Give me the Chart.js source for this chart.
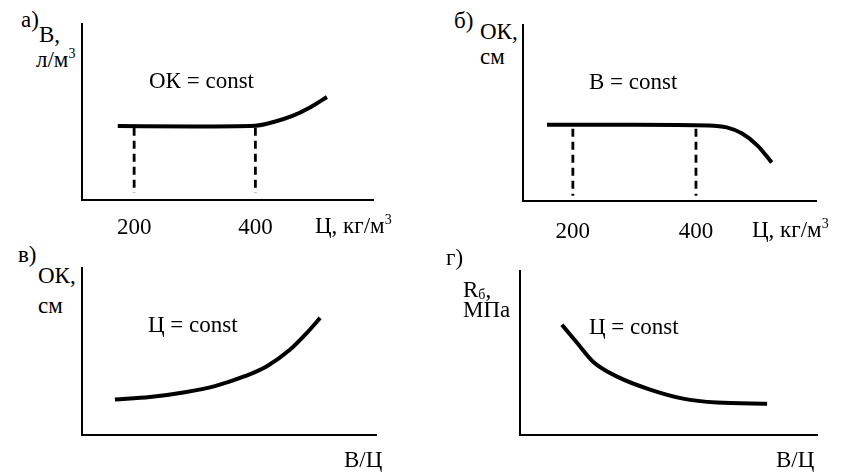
<!DOCTYPE html>
<html>
<head>
<meta charset="utf-8">
<script src="https://cdn.jsdelivr.net/npm/chart.js@4.4.1/dist/chart.umd.min.js"></script>
<style>
  body { margin: 0; background: #fff; }
  #wrap { position: relative; width: 854px; height: 473px; overflow: hidden; background: #fff; }
  canvas { position: absolute; }
  .lbl { position: absolute; font-family: "Liberation Serif", "DejaVu Serif", serif; font-size: 23px; line-height: 23px; color: #000; white-space: nowrap; }
  .sup { font-size: 14px; position: relative; top: -9px; }
  .sub { font-size: 14px; position: relative; top: 2px; }
</style>
</head>
<body>
<div id="wrap">
  <canvas id="chartA" width="299" height="225" style="left:78px;top:20px"></canvas>
  <canvas id="chartB" width="301" height="225" style="left:519px;top:21px"></canvas>
  <canvas id="chartV" width="302" height="216" style="left:78px;top:264px"></canvas>
  <canvas id="chartG" width="305" height="213" style="left:516px;top:267px"></canvas>

  <div class="lbl" style="left:21px;top:8px">а)</div>
  <div class="lbl" style="left:39px;top:23px">В,</div>
  <div class="lbl" style="left:36px;top:48px">л/м<span class="sup">3</span></div>
  <div class="lbl" style="left:149px;top:69px">ОК = const</div>
  <div class="lbl" style="left:315px;top:214px">Ц, кг/м<span class="sup">3</span></div>

  <div class="lbl" style="left:454px;top:9px">б)</div>
  <div class="lbl" style="left:480px;top:20px">ОК,</div>
  <div class="lbl" style="left:480px;top:45px">см</div>
  <div class="lbl" style="left:589px;top:70px">В = const</div>
  <div class="lbl" style="left:752px;top:218px">Ц, кг/м<span class="sup">3</span></div>

  <div class="lbl" style="left:18px;top:243px">в)</div>
  <div class="lbl" style="left:38px;top:264px">ОК,</div>
  <div class="lbl" style="left:38px;top:294px">см</div>
  <div class="lbl" style="left:148px;top:313px">Ц = const</div>
  <div class="lbl" style="left:344px;top:448px">В/Ц</div>

  <div class="lbl" style="left:446px;top:246px">г)</div>
  <div class="lbl" style="left:463px;top:278px">R<span class="sub">б</span>,</div>
  <div class="lbl" style="left:463px;top:298px">МПа</div>
  <div class="lbl" style="left:589px;top:315px">Ц = const</div>
  <div class="lbl" style="left:776px;top:448px">В/Ц</div>
</div>
<script>
// panel а: В vs Ц (OK = const)
var cementTicks = [200, 400];
var waterA_x = [173, 300, 400, 430, 460, 490, 518];
var waterA_y = [42, 41.8, 42.2, 44.3, 47.6, 52.6, 58.5];
// panel б: OK vs Ц (В = const)
var slumpB_x = [158, 300, 420, 450, 475, 500, 523];
var slumpB_y = [43.3, 43.3, 42.9, 41.8, 38.3, 31.5, 21.9];
// panel в: OK vs В/Ц
var slumpV_x = [11.2, 23.1, 35.0, 45.2, 55.4, 62.9, 70.7, 76.5, 81];
var slumpV_y = [21.2, 22.7, 25.6, 29.3, 35.2, 41.2, 51, 61.2, 70.1];
// panel г: Rб vs В/Ц
var strengthG_x = [14.1, 19.2, 24.6, 32.7, 43.8, 54.9, 66.3, 83.2];
var strengthG_y = [67.2, 56.2, 44.7, 35.6, 27.7, 22.2, 19.8, 19.1];
// dashed guide lines (value on x, top and bottom on y)
var guideA = [[200, 41, 4], [400, 41, 4]];
var guideB = [[200, 41, 3], [400, 41, 3]];

var serif = '"Liberation Serif", "DejaVu Serif", serif';

function pts(xs, ys) {
  return xs.map(function (x, i) { return { x: x, y: ys[i] }; });
}

function curve(xs, ys) {
  return {
    data: pts(xs, ys),
    borderColor: '#000',
    borderWidth: 4,
    pointRadius: 0,
    cubicInterpolationMode: 'monotone',
    fill: false
  };
}

function guide(g) {
  return {
    data: [{ x: g[0], y: g[1] }, { x: g[0], y: g[2] }],
    borderColor: '#000',
    borderWidth: 2.8,
    borderDash: [8, 5],
    pointRadius: 0,
    fill: false
  };
}

function makeChart(id, datasets, xmin, xmax, xticks, tickPad) {
  new Chart(document.getElementById(id), {
    type: 'line',
    data: { datasets: datasets },
    options: {
      responsive: false,
      animation: false,
      events: [],
      layout: { padding: { left: 4, top: 4, right: 4, bottom: 0 } },
      plugins: { legend: { display: false }, tooltip: { enabled: false } },
      scales: {
        x: {
          type: 'linear',
          min: xmin,
          max: xmax,
          grid: { display: false, drawTicks: false },
          border: { display: true, color: '#000', width: 2 },
          afterBuildTicks: function (scale) {
            if (xticks) scale.ticks = xticks.map(function (v) { return { value: v }; });
          },
          afterFit: function (scale) { scale.height = 45; },
          ticks: {
            display: !!xticks,
            color: '#000',
            padding: tickPad,
            maxRotation: 0,
            font: { family: serif, size: 23 }
          }
        },
        y: {
          type: 'linear',
          min: 0,
          max: 100,
          grid: { display: false, drawTicks: false },
          border: { display: true, color: '#000', width: 2 },
          afterFit: function (scale) { scale.width = 0; },
          ticks: { display: false }
        }
      }
    }
  });
}

makeChart('chartA', [curve(waterA_x, waterA_y)].concat(guideA.map(guide)), 114, 594, cementTicks, 14);
makeChart('chartB', [curve(slumpB_x, slumpB_y)].concat(guideB.map(guide)), 119, 595, cementTicks, 17);
makeChart('chartV', [curve(slumpV_x, slumpV_y)], 0, 100, null, 0);
makeChart('chartG', [curve(strengthG_x, strengthG_y)], 0, 100, null, 0);
</script>
</body>
</html>
